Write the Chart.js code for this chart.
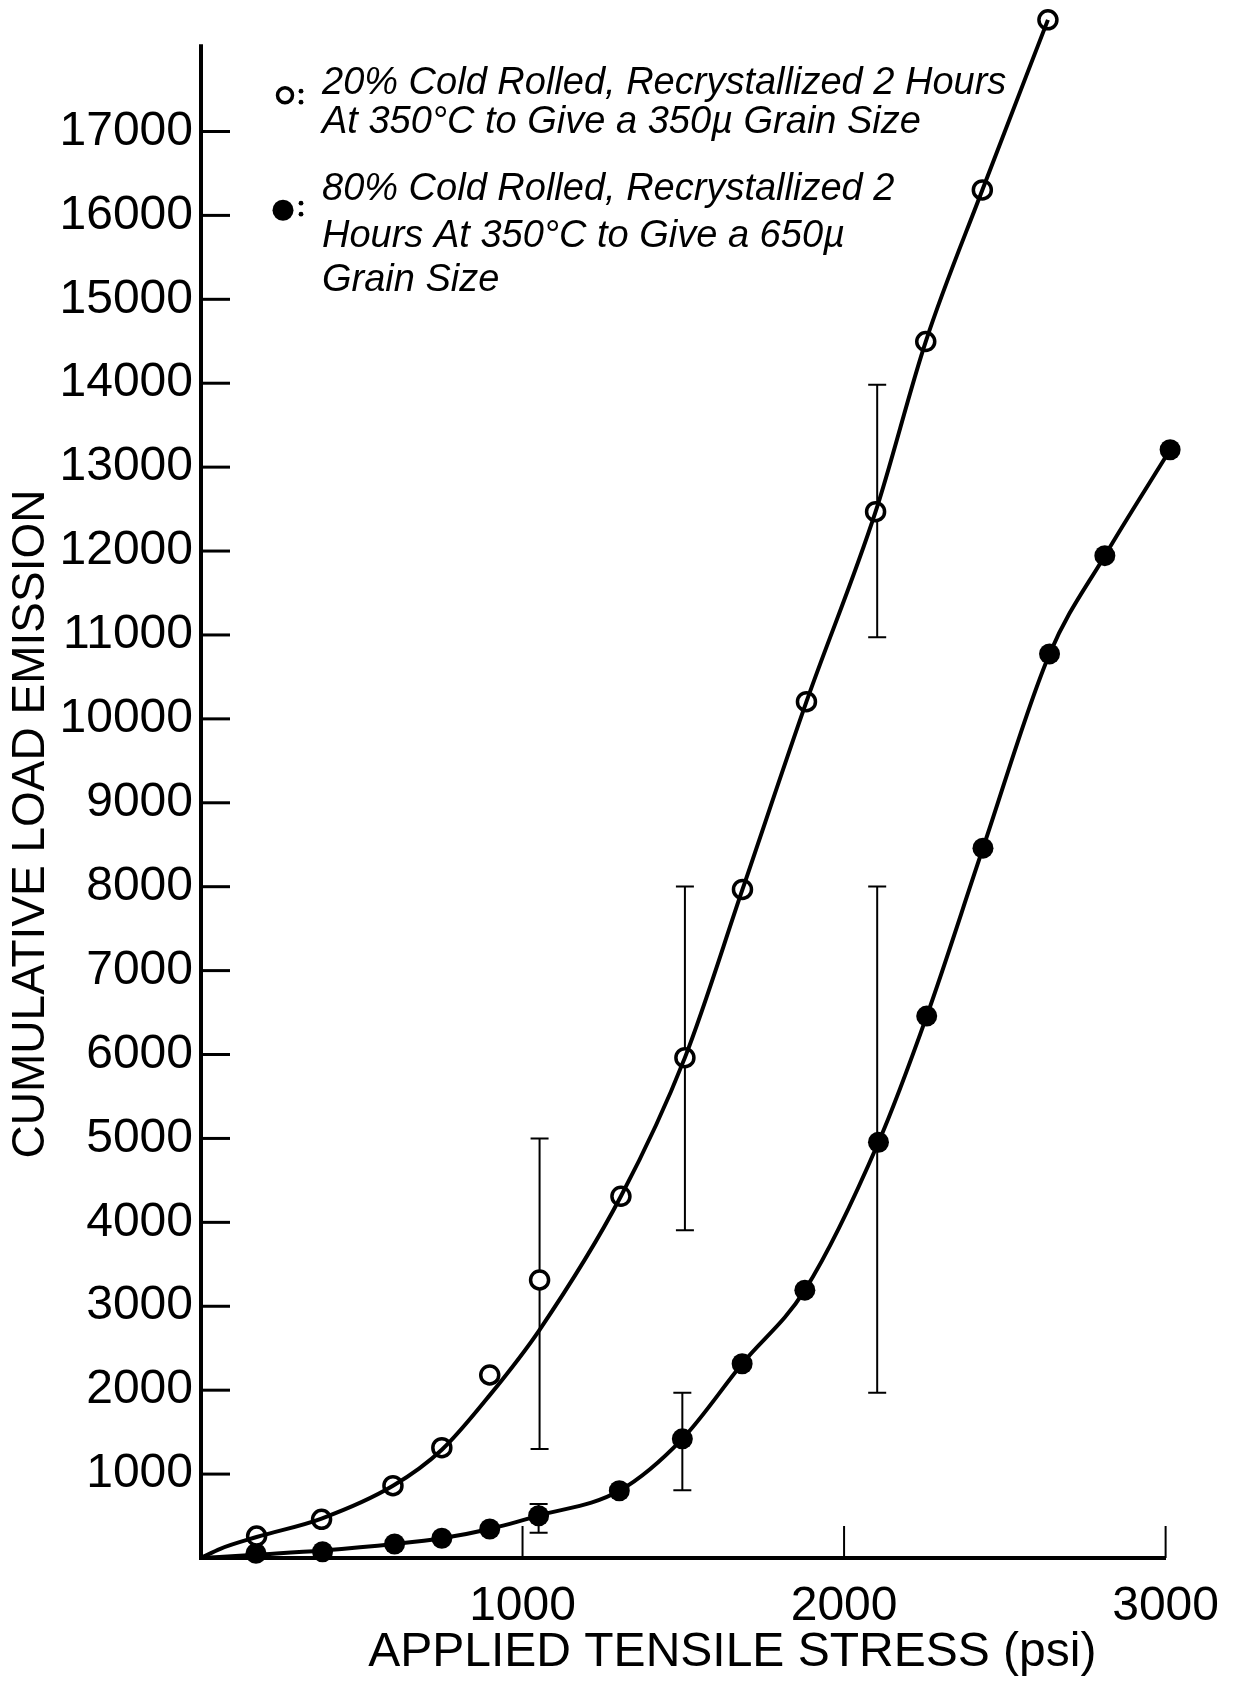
<!DOCTYPE html>
<html><head><meta charset="utf-8">
<script src="https://cdn.jsdelivr.net/npm/chart.js@4/dist/chart.umd.min.js"></script>
<style>html,body{margin:0;padding:0;background:#fff}#wrap{width:1239px;height:1684px;position:relative}</style>
</head><body><div id="wrap"><canvas id="c" width="1239" height="1684"></canvas></div>
<script>
// ---- data ----
const openStress   = [173, 375, 597, 749, 898, 1053, 1306, 1505, 1684, 1883, 2098, 2254, 2430, 2634];
const openEmission = [262, 461, 862, 1315, 2181, 3313, 4311, 5963, 7967, 10205, 12469, 14497, 16303, 18330];
const openFitStress   = [0, 60, 173, 375, 597, 749, 900, 1053, 1306, 1505, 1684, 1883, 2098, 2254, 2430, 2634];
const openFitEmission = [0, 110, 250, 470, 860, 1290, 1950, 2720, 4311, 5963, 7967, 10205, 12469, 14497, 16303, 18330];
const filledStress   = [171, 378, 602, 749, 898, 1050, 1301, 1497, 1683, 1878, 2107, 2257, 2432, 2639, 2811, 3014];
const filledEmission = [56, 75, 167, 235, 346, 504, 801, 1420, 2315, 3192, 4954, 6458, 8459, 10774, 11945, 13207];
const filledFitStress   = [0, 171, 378, 602, 749, 898, 1050, 1301, 1497, 1683, 1878, 2107, 2257, 2432, 2639, 2811, 3014];
const filledFitEmission = [0, 40, 90, 167, 235, 346, 504, 801, 1420, 2315, 3192, 4954, 6458, 8459, 10774, 11945, 13207];
const openErrStress = [1053, 1505, 2103];
const openErrLow    = [1300, 3906, 10972];
const openErrHigh   = [5000, 8003, 13981];
const filledErrStress = [1050, 1497, 2103];
const filledErrLow    = [300, 806, 1970];
const filledErrHigh   = [645, 1970, 8003];
const yAxisTop = 18040;
const yTickValues = [1000, 2000, 3000, 4000, 5000, 6000, 7000, 8000, 9000, 10000, 11000, 12000, 13000, 14000, 15000, 16000, 17000];
const yTickLabels = ['1000', '2000', '3000', '4000', '5000', '6000', '7000', '8000', '9000', '10000', '11000', '12000', '13000', '14000', '15000', '16000', '17000'];
const xTickValues = [1000, 2000, 3000];
const xTickLabels = ['1000', '2000', '3000'];
const xTitle = 'APPLIED TENSILE STRESS (psi)';
const yTitle = 'CUMULATIVE LOAD EMISSION';
const legendOpenLines = ['20% Cold Rolled, Recrystallized 2 Hours', 'At 350°C to Give a 350µ Grain Size'];
const legendFilledLines = ['80% Cold Rolled, Recrystallized 2', 'Hours At 350°C to Give a 650µ', 'Grain Size'];

const FONT = "'Liberation Sans', Arial, sans-serif";
const zip = (xs, ys) => xs.map((v, i) => ({x: v, y: ys[i]}));

// shift a scale title by (dx, dy) pixels
function shiftTitle(scale, dx, dy) {
  if (scale._titleShifted) return;
  const orig = scale.drawTitle.bind(scale);
  scale.drawTitle = function () {
    this.ctx.save();
    this.ctx.translate(dx, dy);
    orig();
    this.ctx.restore();
  };
  scale._titleShifted = true;
}

const errorBars = {
  id: 'errorBars',
  beforeDatasetsDraw(chart) {
    const {ctx, scales: {x, y}} = chart;
    ctx.save();
    ctx.strokeStyle = '#000';
    ctx.lineWidth = 2;
    const draw = (xs, lo, hi) => xs.forEach((v, i) => {
      const px = x.getPixelForValue(v);
      const p1 = y.getPixelForValue(lo[i]);
      const p2 = y.getPixelForValue(hi[i]);
      ctx.beginPath();
      ctx.moveTo(px, p1); ctx.lineTo(px, p2);
      ctx.moveTo(px - 9, p1); ctx.lineTo(px + 9, p1);
      ctx.moveTo(px - 9, p2); ctx.lineTo(px + 9, p2);
      ctx.stroke();
    });
    draw(openErrStress, openErrLow, openErrHigh);
    draw(filledErrStress, filledErrLow, filledErrHigh);
    ctx.restore();
  }
};

const axisAndTicks = {
  id: 'axisAndTicks',
  afterDraw(chart) {
    const {ctx, chartArea, scales: {x, y}} = chart;
    ctx.save();
    ctx.strokeStyle = '#000';
    // vertical axis line, up to yAxisTop
    ctx.lineWidth = 4;
    ctx.beginPath();
    ctx.moveTo(chartArea.left, y.getPixelForValue(yAxisTop));
    ctx.lineTo(chartArea.left, chartArea.bottom + 2);
    ctx.stroke();
    ctx.lineWidth = 3;
    yTickValues.forEach(v => {
      const py = y.getPixelForValue(v);
      ctx.beginPath(); ctx.moveTo(chartArea.left, py); ctx.lineTo(chartArea.left + 29, py); ctx.stroke();
    });
    ctx.lineWidth = 2;
    xTickValues.forEach(v => {
      const px = x.getPixelForValue(v);
      ctx.beginPath(); ctx.moveTo(px, chartArea.bottom); ctx.lineTo(px, chartArea.bottom - 32); ctx.stroke();
    });
    ctx.restore();
  }
};

const noteLegend = {
  id: 'noteLegend',
  afterDraw(chart) {
    const {ctx, chartArea, scales: {y}} = chart;
    const L = chartArea.left, T = y.getPixelForValue(yAxisTop);
    ctx.save();
    ctx.fillStyle = '#000';
    ctx.strokeStyle = '#000';
    // open marker
    ctx.lineWidth = 3.5;
    ctx.beginPath(); ctx.arc(L + 84, T + 51, 7.5, 0, Math.PI * 2); ctx.fillStyle = '#fff'; ctx.fill(); ctx.stroke();
    ctx.fillStyle = '#000';
    // filled marker
    ctx.beginPath(); ctx.arc(L + 82, T + 166, 10.5, 0, Math.PI * 2); ctx.fill();
    // colons
    [[L + 100, T + 52], [L + 100, T + 164]].forEach(([cx, cy]) => {
      ctx.beginPath(); ctx.arc(cx, cy - 5, 2.4, 0, Math.PI * 2); ctx.fill();
      ctx.beginPath(); ctx.arc(cx, cy + 6, 2.4, 0, Math.PI * 2); ctx.fill();
    });
    ctx.font = 'italic 38px ' + FONT;
    ctx.textBaseline = 'alphabetic';
    ctx.textAlign = 'left';
    const tx = L + 121;
    [50, 89].forEach((dy, i) => ctx.fillText(legendOpenLines[i], tx, T + dy));
    [156, 203, 247].forEach((dy, i) => ctx.fillText(legendFilledLines[i], tx, T + dy));
    ctx.restore();
  }
};

new Chart(document.getElementById('c'), {
  type: 'scatter',
  data: {
    datasets: [
      {label: 'fit 20%', type: 'line', data: zip(openFitStress, openFitEmission), showLine: true,
       borderColor: '#000', borderWidth: 4, pointRadius: 0, cubicInterpolationMode: 'monotone', fill: false, clip: false},
      {label: 'fit 80%', type: 'line', data: zip(filledFitStress, filledFitEmission), showLine: true,
       borderColor: '#000', borderWidth: 4, pointRadius: 0, cubicInterpolationMode: 'monotone', fill: false, clip: false},
      {label: '20% Cold Rolled', data: zip(openStress, openEmission), showLine: false,
       pointRadius: 9, pointBorderWidth: 3.5, pointBackgroundColor: '#fff', pointBorderColor: '#000', clip: false},
      {label: '80% Cold Rolled', data: zip(filledStress, filledEmission), showLine: false,
       pointRadius: 10.5, pointBorderWidth: 0, pointBackgroundColor: '#000', pointBorderColor: '#000', clip: false}
    ]
  },
  options: {
    responsive: false,
    animation: false,
    events: [],
    layout: {padding: {top: 14, right: 72, left: 0, bottom: 0}},
    plugins: {legend: {display: false}, tooltip: {enabled: false}, title: {display: false}},
    scales: {
      x: {
        type: 'linear', min: 0, max: 3000,
        afterBuildTicks(s) { s.ticks = xTickValues.map(v => ({value: v})); },
        afterFit(s) { s.height = 126; s.paddingLeft = 0; },
        afterUpdate(s) { shiftTitle(s, 49, 0); },
        grid: {display: false, drawTicks: false},
        border: {display: true, color: '#000', width: 4},
        ticks: {autoSkip: false, maxRotation: 0, padding: 20, color: '#000', font: {family: FONT, size: 48},
          callback: v => { const i = xTickValues.indexOf(v); return i >= 0 ? xTickLabels[i] : ''; }},
        title: {display: true, text: xTitle, color: '#000', font: {family: FONT, size: 48}, padding: {top: 0, bottom: 2}}
      },
      y: {
        type: 'linear', min: 0, max: 18400,
        afterBuildTicks(s) { s.ticks = yTickValues.map(v => ({value: v})); },
        afterFit(s) { s.width = 201; s.paddingTop = 0; s.paddingBottom = 0; },
        afterUpdate(s) { shiftTitle(s, 0, 38); },
        grid: {display: false, drawTicks: false},
        border: {display: false},
        ticks: {autoSkip: false, padding: 8, color: '#000', font: {family: FONT, size: 48},
          callback: v => { const i = yTickValues.indexOf(v); return i >= 0 ? yTickLabels[i] : ''; }},
        title: {display: true, text: yTitle, color: '#000', font: {family: FONT, size: 46}, padding: {top: 4, bottom: 0}}
      }
    }
  },
  plugins: [errorBars, axisAndTicks, noteLegend]
});
</script>
</body></html>
